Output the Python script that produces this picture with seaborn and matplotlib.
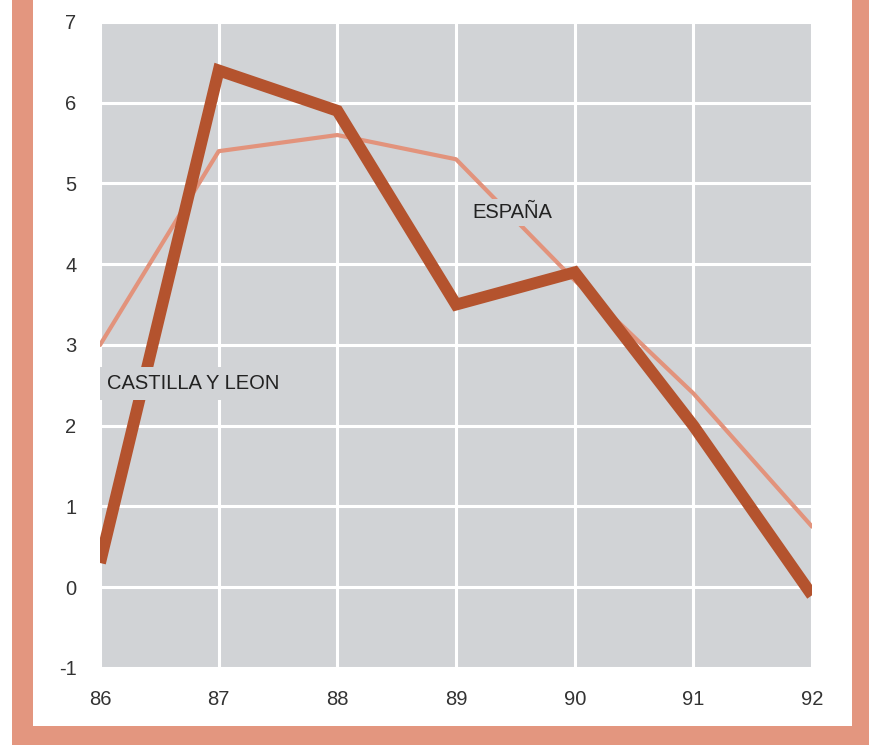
import numpy as np
import pandas as pd
import matplotlib
matplotlib.use("Agg")
import matplotlib.pyplot as plt
import matplotlib.patches as patches
import seaborn as sns

years = [86, 87, 88, 89, 90, 91, 92]
castilla_leon = [0.3, 6.4, 5.9, 3.5, 3.9, 2.0, -0.1]
espana = [3.0, 5.4, 5.6, 5.3, 3.8, 2.4, 0.75]
x_ticks = [86, 87, 88, 89, 90, 91, 92]
y_ticks = [-1, 0, 1, 2, 3, 4, 5, 6, 7]

bg_gray = "#D1D3D6"
brown = "#B4532E"
salmon = "#E2937C"
frame = "#E3967F"

sns.set_style("darkgrid", {"axes.facecolor": bg_gray, "grid.color": "white",
                           "axes.edgecolor": bg_gray})
plt.rcParams["font.family"] = ["Liberation Sans", "DejaVu Sans"]

fig = plt.figure(figsize=(8.69, 7.45), dpi=100)
ax = fig.add_axes([0.1151, 0.1034, 0.8194, 0.8671])

df = pd.DataFrame({"year": years, "cyl": castilla_leon, "esp": espana})
sns.lineplot(data=df, x="year", y="esp", ax=ax, color=salmon, lw=3, zorder=3)
sns.lineplot(data=df, x="year", y="cyl", ax=ax, color=brown, lw=8.5, zorder=4,
             solid_joinstyle="miter", solid_capstyle="butt")

ax.set_xlim(86, 92)
ax.set_ylim(-1, 7)
ax.set_xticks(x_ticks)
ax.set_yticks(y_ticks)
ax.set_xticklabels([str(v) for v in x_ticks])
ax.set_yticklabels([str(v) for v in y_ticks])
ax.grid(True, color="white", lw=2.2)
ax.tick_params(axis="both", length=0, labelsize=14.5, colors="#333333")
ax.tick_params(axis="x", pad=16)
ax.tick_params(axis="y", pad=17)
ax.set_xlabel("")
ax.set_ylabel("")
for s in ax.spines.values():
    s.set_visible(False)

# labels sit on a patch of background so the lines break around them
labels = [
    ax.text(89.47, 4.64, "ESPAÑA", fontsize=14.5, color="#222222", ha="center",
            va="center", zorder=5,
            bbox=dict(boxstyle="square,pad=0.2", fc=bg_gray, ec="none")),
    ax.text(86.06, 2.52, "CASTILLA Y LEON", fontsize=14.5, color="#222222",
            ha="left", va="center", zorder=5,
            bbox=dict(boxstyle="square,pad=0.35", fc=bg_gray, ec="none")),
]
for t in labels:
    t.set_clip_box(ax.bbox)
    t.set_clip_on(True)

# orange frame around the card
for (x0, y0, w, h) in [(12 / 869, 18 / 745, 21 / 869, 727 / 745),
                       (852 / 869, 0, 17 / 869, 1),
                       (12 / 869, 0, 857 / 869, 19 / 745)]:
    fig.add_artist(patches.Rectangle((x0, y0), w, h, transform=fig.transFigure,
                                     facecolor=frame, edgecolor="none"))

fig.savefig("out.png", dpi=100, facecolor="white")
